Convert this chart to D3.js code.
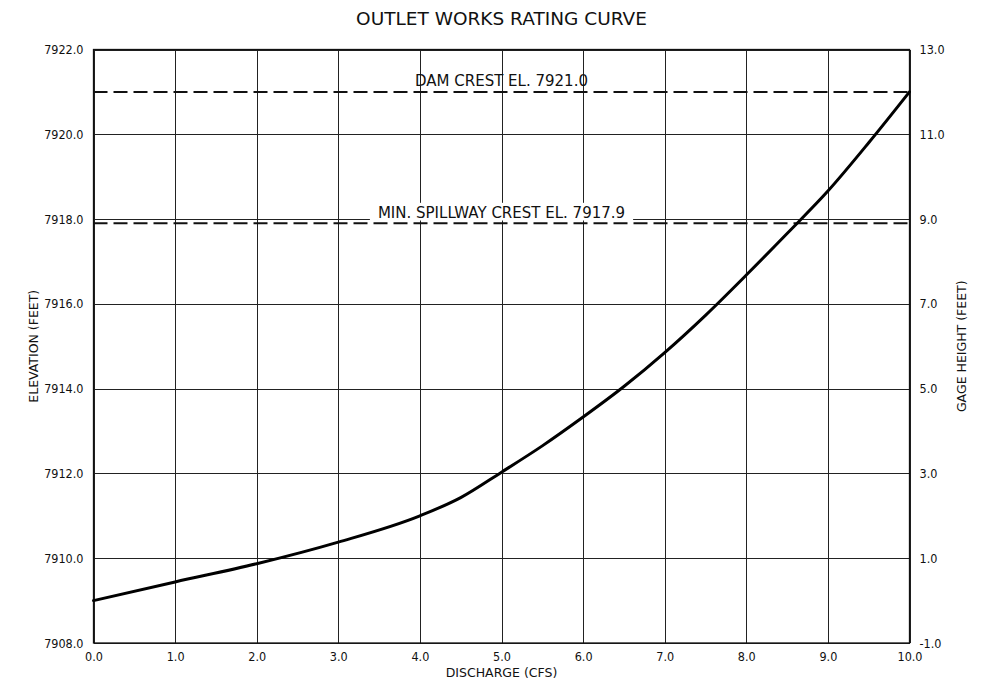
<!DOCTYPE html>
<html>
<head>
<meta charset="utf-8">
<script src="https://cdn.jsdelivr.net/npm/d3@7/dist/d3.min.js"></script>
<style>
  html, body { margin: 0; padding: 0; background: #fff; }
  svg { display: block; }
  text { font-family: "DejaVu Sans", sans-serif; fill: #111; }
</style>
</head>
<body>
<svg id="chart" width="997" height="687"></svg>
<script>
// Rating curve: discharge (cfs) vs reservoir elevation (ft)
const discharge = [0, 1, 2, 3, 4, 4.5, 5, 5.5, 6, 6.5, 7, 7.5, 8, 8.5, 9, 9.5, 10];
const elevation = [7909.0, 7909.44, 7909.87, 7910.38, 7911.0, 7911.43, 7912.03, 7912.65, 7913.33,
                   7914.05, 7914.85, 7915.73, 7916.68, 7917.66, 7918.66, 7919.8, 7921.0];

// Reference levels
const damCrest = 7921.0;
const spillwayCrest = 7917.9;

// Axis ticks
const xTicks = [0, 1, 2, 3, 4, 5, 6, 7, 8, 9, 10];
const elevTicks = [7908, 7910, 7912, 7914, 7916, 7918, 7920, 7922];
const gageDatum = 7909; // gage height zero
const gageTicks = [-1, 1, 3, 5, 7, 9, 11, 13];

const svg = d3.select("#chart");
const margin = { left: 93.5, right: 87.5, top: 49.5, bottom: 44 };
const W = 997, H = 687;
const TICK_FONT = '"DejaVu Sans Condensed", "DejaVu Sans", sans-serif';
const fmt = d => d.toFixed(1); // plain hyphen for negatives

const x = d3.scaleLinear().domain([0, 10]).range([margin.left, W - margin.right]);
const y = d3.scaleLinear().domain([7908, 7922]).range([H - margin.bottom, margin.top]);
const yG = d3.scaleLinear().domain([7908 - gageDatum, 7922 - gageDatum]).range([H - margin.bottom, margin.top]);

// Grid
const grid = svg.append("g").attr("stroke", "#222").attr("stroke-width", 1).attr("shape-rendering", "crispEdges");
grid.selectAll("line.v").data(xTicks).join("line").attr("class", "v")
  .attr("x1", d => Math.round(x(d)) + 0.5).attr("x2", d => Math.round(x(d)) + 0.5)
  .attr("y1", y(7922)).attr("y2", y(7908));
grid.selectAll("line.h").data(elevTicks).join("line").attr("class", "h")
  .attr("x1", x(0)).attr("x2", x(10))
  .attr("y1", d => Math.round(y(d)) + 0.5).attr("y2", d => Math.round(y(d)) + 0.5);

// Plot frame
svg.append("rect")
  .attr("x", x(0)).attr("y", y(7922))
  .attr("width", x(10) - x(0)).attr("height", y(7908) - y(7922))
  .attr("fill", "none").attr("stroke", "#111").attr("stroke-width", 1.3);

// Axes
const leftAxis = svg.append("g").attr("transform", `translate(${x(0)},0)`)
  .call(d3.axisLeft(y).tickValues(elevTicks).tickFormat(fmt).tickSize(0).tickPadding(10));
const rightAxis = svg.append("g").attr("transform", `translate(${x(10)},0)`)
  .call(d3.axisRight(yG).tickValues(gageTicks).tickFormat(fmt).tickSize(0).tickPadding(10));
const bottomAxis = svg.append("g").attr("transform", `translate(0,${y(7908)})`)
  .call(d3.axisBottom(x).tickValues(xTicks).tickFormat(fmt).tickSize(0).tickPadding(9));
[leftAxis, rightAxis, bottomAxis].forEach(a => {
  a.attr("font-size", 12.5).attr("font-family", TICK_FONT);
  a.select(".domain").remove();
  a.selectAll("text").attr("fill", "#111").style("font-family", TICK_FONT);
});

// Reference lines
const refs = svg.append("g").attr("stroke", "#111").attr("stroke-width", 2).attr("stroke-dasharray", "14,6");
refs.append("line").attr("x1", x(0)).attr("x2", x(10)).attr("y1", y(damCrest)).attr("y2", y(damCrest));
refs.append("line").attr("x1", x(0)).attr("x2", x(10)).attr("y1", y(spillwayCrest)).attr("y2", y(spillwayCrest));

// Reference labels (spillway note sits on a white patch that breaks the 7918 gridline)
const midX = x(5);
const labels = svg.append("g").attr("font-size", 15).attr("text-anchor", "middle");
const spillBg = labels.append("rect").attr("fill", "#fff");
const spillText = labels.append("text")
  .attr("x", midX).attr("y", y(spillwayCrest) - 5.5)
  .text("MIN. SPILLWAY CREST EL. " + fmt(spillwayCrest));
const bb = spillText.node().getBBox();
const bgBottom = Math.round(y(7918)) + 1.5;
spillBg.attr("x", bb.x - 8).attr("y", bb.y - 1)
  .attr("width", bb.width + 16).attr("height", bgBottom - (bb.y - 1));
spillText.raise();
labels.append("text")
  .attr("x", midX).attr("y", y(damCrest) - 6)
  .text("DAM CREST EL. " + fmt(damCrest));

// Rating curve
const line = d3.line().x((d, i) => x(discharge[i])).y(d => y(d)).curve(d3.curveMonotoneX);
svg.append("path").datum(elevation)
  .attr("d", line).attr("fill", "none").attr("stroke", "#000")
  .attr("stroke-width", 3).attr("stroke-linejoin", "round").attr("stroke-linecap", "round");

// Titles
svg.append("text").attr("x", midX).attr("y", 25).attr("text-anchor", "middle")
  .attr("font-size", 18.5).text("OUTLET WORKS RATING CURVE");
svg.append("text").attr("x", midX).attr("y", 677).attr("text-anchor", "middle")
  .attr("font-size", 12.5).text("DISCHARGE (CFS)");
svg.append("text").attr("transform", `translate(38,${(y(7908) + y(7922)) / 2}) rotate(-90)`)
  .attr("text-anchor", "middle").attr("font-size", 12.5).text("ELEVATION (FEET)");
svg.append("text").attr("transform", `translate(966,${(y(7908) + y(7922)) / 2}) rotate(-90)`)
  .attr("text-anchor", "middle").attr("font-size", 12.5).text("GAGE HEIGHT (FEET)");
</script>
</body>
</html>
